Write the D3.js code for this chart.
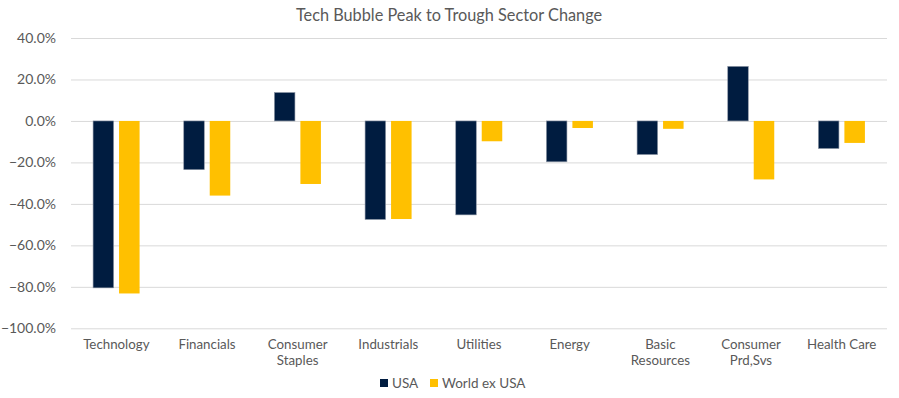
<!DOCTYPE html>
<html>
<head>
<meta charset="utf-8">
<script src="https://cdn.jsdelivr.net/npm/d3@7"></script>
<style>
  body { margin: 0; background: #fff; }
  svg { display: block; font-family: Lato, sans-serif; }
</style>
</head>
<body>
<div id="chart"></div>
<script>
const categories = ['Technology', 'Financials', 'Consumer Staples', 'Industrials', 'Utilities',
  'Energy', 'Basic Resources', 'Consumer Prd,Svs', 'Health Care'];
const categoryLines = [['Technology'], ['Financials'], ['Consumer', 'Staples'], ['Industrials'], ['Utilities'],
  ['Energy'], ['Basic', 'Resources'], ['Consumer', 'Prd,Svs'], ['Health Care']];
const seriesNames = ['USA', 'World ex USA'];
const usaValues = [-80.5, -23.5, 13.7, -47.5, -45.3, -19.7, -16.2, 26.3, -13.3];
const worldValues = [-83.2, -36.0, -30.4, -47.3, -9.8, -3.4, -3.8, -28.2, -10.6];
const yTicks = [40, 20, 0, -20, -40, -60, -80, -100];
const colors = ['#001c40', '#ffc000'];

const width = 899, height = 398;
const margin = { top: 38, right: 12, bottom: 70, left: 71 };

const svg = d3.select('#chart')
  .append('svg')
    .attr('width', width)
    .attr('height', height);

const x0 = d3.scaleBand()
  .domain(categories)
  .range([margin.left, width - margin.right])
  .padding(0);

const x1 = d3.scaleBand()
  .domain(seriesNames)
  .range([0, x0.bandwidth()])
  .paddingInner(0.21)
  .paddingOuter(0.85);

const y = d3.scaleLinear()
  .domain([-100, 40])
  .range([height - margin.bottom + 0.3, margin.top]);

// gridlines
svg.append('g')
  .attr('transform', `translate(${margin.left},0)`)
  .call(d3.axisLeft(y).tickValues(yTicks).tickSize(-(width - margin.left - margin.right)).tickFormat(''))
  .call(g => g.select('.domain').remove())
  .selectAll('line')
    .attr('stroke', '#d9d9d9')
    .attr('stroke-width', 1);

// y labels
svg.append('g')
  .attr('transform', `translate(${margin.left},0)`)
  .call(d3.axisLeft(y).tickValues(yTicks).tickSize(0).tickPadding(15).tickFormat(d => d3.format('.1f')(d) + '%'))
  .call(g => g.select('.domain').remove())
  .selectAll('text')
    .attr('fill', '#595959')
    .style('font-size', '14px')
    .style('font-family', 'Lato, sans-serif');

// bars
const rows = categories.map((c, i) => ({ cat: c, vals: [usaValues[i], worldValues[i]] }));

svg.append('g')
  .selectAll('g')
  .data(rows)
  .join('g')
    .attr('transform', d => `translate(${x0(d.cat)},0)`)
  .selectAll('rect')
  .data(d => d.vals.map((v, j) => ({ name: seriesNames[j], value: v, j })))
  .join('rect')
    .attr('x', d => x1(d.name))
    .attr('width', x1.bandwidth())
    .attr('y', d => y(Math.max(0, d.value)))
    .attr('height', d => Math.abs(y(d.value) - y(0)))
    .attr('fill', d => colors[d.j])
    .attr('stroke', d => d.j === 0 ? '#8a94a3' : 'none')
    .attr('stroke-width', 0.6);

// x labels, one text per line
const labelLines = categories.flatMap((c, i) =>
  categoryLines[i].map((l, k) => ({ cat: c, text: l, k })));

svg.append('g')
  .selectAll('text')
  .data(labelLines)
  .join('text')
    .attr('x', d => x0(d.cat) + x0.bandwidth() / 2)
    .attr('y', d => 348.5 + d.k * 16)
    .attr('text-anchor', 'middle')
    .attr('fill', '#595959')
    .style('font-size', '13.3px')
    .text(d => d.text);

// title
svg.append('text')
  .attr('x', 449)
  .attr('y', 21)
  .attr('text-anchor', 'middle')
  .attr('fill', '#595959')
  .style('font-size', '16.3px')
  .text('Tech Bubble Peak to Trough Sector Change');

// legend
const legendPos = [380, 430];
const legend = svg.append('g')
  .selectAll('g')
  .data(seriesNames)
  .join('g')
    .attr('transform', (d, i) => `translate(${legendPos[i]},379)`);

legend.append('rect')
  .attr('width', 8)
  .attr('height', 8)
  .attr('fill', (d, i) => colors[i]);

legend.append('text')
  .attr('x', 12)
  .attr('y', 8.5)
  .attr('fill', '#595959')
  .style('font-size', '13.5px')
  .text(d => d);
</script>
</body>
</html>
